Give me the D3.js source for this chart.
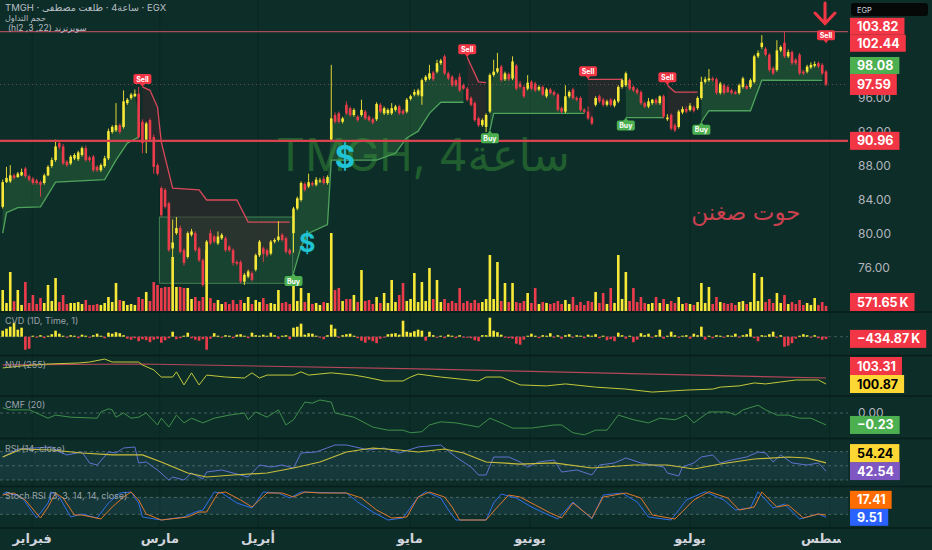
<!DOCTYPE html>
<html>
<head>
<meta charset="utf-8">
<script src="https://cdn.jsdelivr.net/npm/d3@7"></script>
<style>
  body { margin: 0; background: #0d2e28; }
  svg { display: block; font-family: Inter, "Noto Sans", "DejaVu Sans", sans-serif; }
</style>
</head>
<body>
<div id="chart"></div>
<script>
// ---- data (bar index 0..218, 4h bars) ----
const candles = [ // [open, high, low, close]
[83.2,86.4,83.0,86.1],[86.1,87.9,86.0,86.6],[86.2,88.1,86.0,86.9],[86.9,87.1,86.4,86.6],[86.7,87.3,86.6,87.1],
[86.9,87.7,86.8,87.3],[87.7,87.9,86.6,86.8],[86.8,87.0,86.2,86.4],[86.5,86.7,85.8,86.0],[86.3,86.5,85.8,86.0],
[86.1,86.3,84.4,85.8],[86.0,87.1,85.8,86.9],[86.9,88.1,86.8,87.9],[88.0,89.0,87.8,88.7],[88.7,91.1,88.5,90.3],
[90.7,91.0,90.0,90.2],[90.3,90.6,88.1,88.3],[88.5,88.7,87.9,88.1],[88.3,89.3,88.1,89.1],[88.9,89.5,88.7,89.3],
[88.8,89.8,88.6,89.6],[89.3,90.3,89.1,90.1],[90.1,90.4,88.5,88.7],[89.0,89.2,88.5,88.7],[89.1,89.3,87.3,87.5],
[87.9,88.1,87.3,87.5],[87.5,88.3,87.3,88.1],[88.0,89.2,87.8,88.9],[88.9,92.4,88.7,92.1],[92.0,92.8,91.8,92.6],
[92.2,95.4,92.0,92.8],[92.8,93.0,91.8,92.0],[92.6,96.9,92.4,95.6],[95.4,96.0,95.2,95.8],[96.0,96.6,95.8,96.4],
[96.2,97.0,96.1,96.5],[96.5,97.3,91.2,91.4],[93.2,93.5,89.5,90.7],[91.1,93.2,89.5,93.0],[93.4,93.6,90.9,91.1],
[91.4,91.7,87.1,87.9],[88.1,88.3,86.9,87.1],[85.4,85.6,82.0,82.2],[85.2,85.4,83.0,83.2],[83.6,83.8,77.9,78.1],
[78.3,81.7,76.0,79.0],[80.1,82.0,79.9,80.7],[80.7,81.0,77.7,77.9],[78.1,78.3,76.3,76.6],[77.3,80.3,77.1,80.1],
[79.9,80.6,79.7,80.3],[80.1,80.3,77.9,78.1],[78.3,78.5,76.7,76.9],[76.9,77.1,73.8,74.0],[74.4,79.3,74.2,79.1],
[80.1,80.5,78.7,78.9],[79.7,79.9,78.9,79.1],[78.9,80.3,78.7,79.7],[79.5,80.1,79.3,79.9],[79.5,79.7,77.9,78.1],
[78.5,78.7,77.9,78.1],[78.1,78.3,76.3,76.6],[76.7,76.9,76.3,76.5],[76.7,76.9,74.2,74.4],[74.4,75.4,74.0,75.2],
[75.0,75.8,74.8,75.6],[75.4,75.6,74.4,74.6],[75.8,77.7,75.6,77.5],[77.5,79.3,77.3,79.1],[78.3,78.5,76.7,77.7],
[78.1,78.3,77.3,77.5],[77.7,79.3,77.5,79.1],[79.1,79.5,78.9,79.3],[79.3,81.5,79.1,79.7],[79.9,80.1,79.1,79.3],
[79.5,79.7,77.7,77.9],[78.1,78.3,77.5,77.7],[80.1,83.2,77.8,83.0],[83.0,84.4,82.8,84.2],[84.0,86.2,83.8,86.0],
[85.9,86.1,85.0,85.2],[85.6,87.1,85.4,86.1],[86.0,86.2,85.6,85.8],[85.8,86.7,85.6,86.4],[86.2,86.6,86.0,86.3],
[86.5,86.8,85.8,86.0],[86.0,86.9,85.8,86.7],[91.1,99.9,90.9,93.6],[94.0,94.3,93.0,93.2],[94.2,94.4,93.0,93.2],
[93.2,93.8,93.0,93.6],[95.2,95.6,94.0,94.2],[94.8,95.0,93.8,94.0],[94.0,94.8,93.8,94.6],[93.8,94.0,93.2,93.4],
[94.0,95.8,93.8,94.6],[94.4,94.6,93.4,93.6],[93.8,94.0,93.2,93.4],[93.5,93.7,92.9,93.1],[93.5,95.5,93.3,95.3],
[95.2,95.4,94.2,94.4],[94.2,95.0,94.0,94.8],[94.2,94.8,94.0,94.6],[94.2,95.4,94.0,94.8],[94.6,95.2,94.4,95.0],
[95.0,95.2,94.0,94.2],[94.5,94.7,94.0,94.2],[94.4,96.0,94.2,95.8],[95.9,96.4,95.7,96.2],[96.4,97.0,96.2,96.7],
[96.4,97.1,96.2,96.9],[96.2,98.3,95.2,98.1],[98.1,98.7,97.9,98.5],[98.3,99.9,98.1,98.9],[99.0,99.2,98.0,98.2],
[99.1,100.5,98.9,100.1],[100.1,100.6,99.9,100.4],[100.9,101.1,98.7,98.9],[98.9,99.1,98.1,98.3],[98.5,98.7,97.3,97.5],
[98.1,98.3,97.3,97.5],[98.5,98.9,96.7,96.9],[97.5,97.7,97.0,97.1],[97.1,97.3,95.6,95.8],[96.0,96.2,95.0,95.2],
[95.4,95.6,93.2,93.4],[93.6,93.8,92.6,92.8],[92.8,93.6,92.6,93.4],[92.6,94.2,92.0,94.0],[94.4,98.9,94.2,98.7],
[98.7,100.5,98.5,99.1],[99.1,101.3,98.9,99.5],[99.7,99.9,97.9,98.1],[98.2,99.1,98.0,98.9],[98.8,99.0,98.0,98.2],
[98.3,100.9,98.1,100.3],[99.8,100.0,96.9,97.1],[97.7,98.0,97.1,97.3],[97.3,97.5,96.0,96.2],[97.1,98.7,96.9,97.8],
[97.9,98.1,96.9,97.1],[97.7,97.9,96.7,96.9],[97.0,97.5,96.8,97.3],[97.3,97.5,96.2,96.4],[96.2,97.2,96.0,97.0],
[97.0,97.2,96.4,96.6],[96.7,96.9,96.2,96.4],[96.4,96.6,94.4,94.6],[94.8,95.0,94.2,94.4],[94.4,97.5,94.2,96.2],
[96.2,96.9,96.0,96.7],[97.0,97.2,95.8,96.0],[96.0,96.2,95.6,95.8],[96.0,96.2,94.4,94.6],[94.6,94.8,94.2,94.4],
[94.4,95.0,93.4,93.6],[93.7,93.9,92.8,93.0],[95.2,96.2,95.0,96.0],[96.2,96.4,95.4,95.6],[95.8,96.0,95.0,95.2],
[95.2,95.8,95.0,95.6],[95.8,96.0,95.0,95.2],[95.1,95.9,94.9,95.7],[95.6,97.5,95.4,97.3],[97.3,98.3,97.1,98.1],
[97.5,99.1,97.3,98.9],[98.1,98.3,96.9,97.1],[97.3,97.5,96.7,96.9],[97.0,97.2,96.4,96.6],[96.7,96.9,95.2,95.4],
[95.4,95.6,94.8,95.0],[95.0,96.0,94.8,95.6],[95.4,95.9,95.2,95.8],[95.8,96.0,95.2,95.4],[95.4,96.3,95.2,96.2],
[96.2,96.4,93.6,93.8],[93.5,94.1,93.3,93.7],[94.0,94.2,92.2,92.4],[92.8,93.0,92.0,92.2],[92.6,94.6,92.4,94.4],
[94.3,95.0,94.1,94.7],[94.7,95.0,94.2,94.4],[94.6,95.4,94.4,95.1],[94.9,95.1,94.3,94.5],[94.8,96.2,94.6,96.0],
[96.0,98.5,95.8,97.9],[97.9,98.5,97.7,98.2],[98.1,99.4,97.9,98.3],[98.3,98.5,97.9,98.1],[98.2,98.4,96.4,96.6],
[96.6,97.9,96.4,97.7],[97.5,97.7,96.4,96.6],[97.3,97.5,96.6,96.7],[96.9,97.1,96.4,96.6],[96.7,96.9,96.4,96.5],
[96.6,97.7,96.4,97.5],[97.3,98.5,97.1,98.3],[97.4,97.6,97.0,97.1],[97.3,98.3,97.1,98.1],[97.9,101.1,97.7,100.9],
[100.9,101.6,100.7,101.3],[102.0,103.4,101.8,102.5],[101.8,102.0,100.9,101.1],[101.1,101.3,99.1,99.3],[99.5,99.7,98.7,98.9],
[99.3,102.8,99.1,101.6],[101.6,102.2,101.4,102.0],[102.5,103.8,100.7,100.9],[100.9,101.7,100.7,101.4],[101.4,101.6,99.9,100.1],
[100.5,100.7,99.9,100.1],[101.1,101.3,98.7,98.9],[99.1,99.3,98.7,98.9],[99.1,99.9,98.9,99.7],[99.6,100.2,99.4,99.9],
[99.8,100.3,99.6,100.0],[100.1,100.3,99.5,99.7],[99.9,100.1,98.7,98.9],[99.1,99.3,97.4,97.59]
];

const volumes = [ // thousands of shares
2360,900,4390,1100,2360,680,3260,900,1800,790, 1460,900,2930,1125,3710,1010,1800,790,900,900,
1010,790,1240,680,680,790,680,900,1575,1010, 3150,1240,1125,680,790,680,1575,1350,2140,1125,
3260,2930,2590,2700,2700,6075,2700,2700,2590,2590, 1350,1575,1125,1575,6860,1460,900,1240,790,1010,
790,1240,790,1240,900,1575,790,1240,1010,1460, 790,900,790,2360,900,1010,790,3150,1125,2590,
1010,2025,790,900,680,1010,900,8775,2360,2590, 1125,1350,1350,1800,1010,4610,1125,1240,790,1575,
900,2025,900,3490,1010,1800,3150,1125,1350,4275, 1010,3260,1125,4840,1350,3490,1010,1350,900,1125,
900,2590,900,1125,900,1240,900,1010,1350,6300, 1350,5510,1125,3150,1010,3150,1010,900,1125,2025,
900,2590,790,1010,900,790,900,1125,790,1240, 790,1575,680,1010,680,1125,1010,2140,900,2025,
790,2590,900,6300,1350,4390,1125,2590,1010,1575, 900,790,900,1575,900,1350,790,1125,900,1575,
790,900,790,680,1010,3150,900,2700,790,1575, 1010,900,790,900,680,1010,1125,790,1010,4275,
1125,3825,1010,1350,900,2025,900,1800,790,1010, 790,1240,680,900,680,1460,680,1010,571.65
];

const cvd = [ // cumulative volume delta per bar, thousands
1200,1600,2000,2800,1400,1800,-2600,-2400,200,-200, 300,-300,200,500,1200,600,200,-200,300,200,
-300,400,200,-200,300,600,200,-300,800,600, 900,700,300,-400,-600,-300,-900,-500,-700,-1100,
-600,-400,-1200,-700,-300,1000,-500,-300,200,800, -300,-600,-800,-500,-2600,-400,700,200,-200,300,
200,-300,400,500,200,-300,800,300,200,400, 200,800,300,-400,200,300,-500,1800,2000,2600,
400,700,600,200,-200,-500,300,2400,1600,-200, 300,500,600,200,-300,-800,-1200,-600,-900,-1300,
-400,-200,500,600,700,400,3200,1000,800,1100, 1400,1200,-800,1000,300,-200,200,-300,400,200,
-300,300,-200,-200,-300,-700,-900,300,300,3800, 1200,900,400,-200,-300,-400,-1400,-1600,-600,200,
600,200,-300,300,200,700,-200,300,-400,300, 500,-200,300,200,-300,400,200,500,-300,200,
-700,-500,-900,800,300,-400,200,-1100,-600,700, 300,600,-200,300,1400,-400,200,1000,300,-200,
200,300,-400,600,300,2000,-600,200,-300,300, 200,-200,300,200,600,-200,300,500,1600,-300,
-900,300,200,500,1000,-200,300,-2000,-1800,-1300, -400,200,500,300,-200,300,-300,-600,-434.87
];

// supertrend (hl2, 3, 22): [bar, level]
const upTrend = [
  [[0,80.1],[1,82.5],[4,83.1],[10,83.2],[14,86.1],[27,86.4],[30,88.7],[33,90.7],[36,91.4]],
  [[77,75.4],[79,78.5],[81,80.1],[86,81.1],[87,88.7],[99,88.7],[104,89.5],[107,91.3],[110,92.1],[113,94.2],[116,95.5],[122,95.5]],
  [[129,92.2],[130,94.2],[154,94.2]],
  [[165,93.7],[175,93.7]],
  [[185,93.2],[187,94.5],[198,94.5],[201,98.1],[217,98.08]]
];
const downTrend = [
  [[37,97.3],[39,96.9],[41,94.9],[42,90.8],[45,85.4],[52,85.2],[54,84.0],[62,84.0],[65,81.4],[76,81.4]],
  [[123,100.8],[126,97.9],[128,97.8]],
  [[155,98.2],[164,98.2]],
  [[176,97.5],[178,96.7],[184,96.7]],
  [[218,102.44]]
];

const nviLine = [[0,107.4],[5,108.2],[12,109.0],[20,109.4],[23,109.8],[27,111.0],[29,109.8],[36,109.8],[37,108.6],[40,106.6],
  [42,103.7],[45,103.7],[46,105.8],[48,100.5],[50,105.4],[52,100.5],[54,104.5],[59,103.7],[64,103.3],[66,105.4],[68,103.3],
  [70,104.5],[77,104.5],[79,105.8],[81,104.5],[87,105.4],[93,104.5],[96,103.7],[101,102.1],[106,102.1],[108,103.7],[110,104.9],
  [116,103.7],[126,102.1],[128,103.7],[132,103.7],[137,100.5],[144,100.1],[149,100.9],[157,99.6],[165,98.8],[172,97.6],
  [181,98.4],[188,98.8],[190,99.6],[195,100.1],[199,101.3],[202,100.9],[206,101.7],[210,102.5],[216,102.5],[218,100.87]];
const nviEma = [[0,108.6],[37,109.0],[110,107.0],[218,103.31]];

const cmfLine = [[0,0.10],[2,0.06],[7,0.06],[9,0],[12,-0.10],[14,-0.04],[18,-0.08],[25,-0.10],[26,0.02],[28,0.08],[29,0.06],
  [30,-0.08],[32,0],[34,-0.10],[36,-0.08],[38,0],[41,-0.23],[42,-0.10],[44,-0.27],[46,-0.04],[48,-0.19],[50,-0.10],[53,-0.19],
  [56,-0.10],[60,-0.04],[64,0],[65,-0.13],[67,0.02],[70,-0.08],[73,0.06],[75,-0.23],[77,-0.13],[80,0.21],[82,0.19],[84,0.25],
  [87,0.21],[88,0],[93,-0.08],[98,-0.27],[102,-0.33],[106,-0.33],[108,-0.38],[111,-0.36],[113,-0.23],[116,-0.17],[120,-0.19],
  [126,-0.27],[129,-0.10],[132,-0.19],[135,-0.29],[140,-0.29],[146,-0.23],[148,-0.23],[151,-0.38],[154,-0.42],[157,-0.33],
  [160,-0.33],[163,-0.04],[167,-0.13],[171,-0.19],[174,-0.10],[178,-0.13],[181,-0.04],[183,-0.19],[187,0.02],[192,0.02],
  [194,-0.04],[196,0.06],[200,0.15],[202,0.06],[205,-0.04],[208,-0.04],[211,-0.10],[214,-0.10],[218,-0.23]];

const rsiLine = [[0,62.4],[4,73.7],[13,76.6],[15,69.5],[17,65.3],[21,69.5],[23,54.0],[25,51.1],[28,69.5],[30,68.1],[32,75.1],
  [35,76.6],[36,54.0],[38,55.4],[41,44.1],[44,29.9],[45,34.2],[48,29.9],[50,39.8],[53,31.4],[54,41.2],[58,44.1],[61,39.8],
  [65,34.2],[68,51.1],[71,48.3],[74,51.1],[77,46.9],[79,68.1],[83,69.5],[88,79.4],[91,79.4],[97,72.3],[101,75.1],[105,68.1],
  [110,76.6],[116,79.4],[120,62.4],[124,48.3],[126,37.0],[128,37.0],[130,62.4],[134,62.4],[137,55.4],[139,48.3],[142,55.4],
  [146,58.2],[148,41.2],[152,44.1],[156,37.0],[158,51.1],[162,54.0],[165,61.0],[169,54.0],[172,51.1],[175,48.3],[176,39.8],
  [179,35.6],[180,48.3],[183,54.0],[185,62.4],[188,65.3],[190,54.0],[193,58.2],[197,62.4],[200,69.5],[202,68.1],[204,55.4],
  [206,65.3],[209,54.0],[213,51.1],[216,54.0],[218,42.54]];
const rsiMa = [[0,62.4],[5,73.7],[13,72.3],[21,68.1],[29,65.3],[37,65.3],[42,55.4],[49,39.8],[54,34.2],[61,37.0],[70,39.8],
  [77,46.9],[84,55.4],[91,69.5],[98,75.1],[105,72.3],[110,69.5],[117,73.7],[122,68.1],[128,55.4],[137,52.5],[146,54.0],
  [156,46.9],[167,51.1],[176,51.1],[183,45.5],[190,52.5],[199,59.6],[208,62.4],[213,61.0],[218,54.24]];

const stochK = [[0,91.8],[1,98.8],[5,81.2],[9,7.1],[12,60.0],[13,98.8],[15,81.2],[18,10.6],[21,21.2],[25,7.1],[28,60.0],
  [31,95.3],[34,98.8],[36,60.0],[37,10.6],[42,0],[48,10.6],[51,28.2],[53,35.3],[56,98.8],[58,95.3],[62,60.0],[66,42.4],
  [69,98.8],[73,95.3],[76,77.7],[79,98.8],[91,95.3],[94,63.5],[98,28.2],[102,0],[106,7.1],[110,81.2],[112,100],[116,77.7],
  [118,35.3],[120,0],[128,0],[130,60.0],[132,91.8],[136,77.7],[140,45.9],[144,21.2],[147,3.5],[151,63.5],[156,3.5],[159,88.3],
  [164,95.3],[168,63.5],[171,10.6],[177,0],[181,70.6],[186,100],[191,70.6],[194,35.3],[198,42.4],[200,100],[204,42.4],
  [207,56.5],[211,3.5],[216,21.2],[218,9.51]];
const stochD = [[0,88.3],[3,95.3],[6,70.6],[10,7.1],[12,45.9],[14,95.3],[16,77.7],[19,17.7],[21,17.7],[26,3.5],[29,45.9],
  [32,81.2],[34,98.8],[36,70.6],[38,21.2],[42,0],[49,10.6],[52,28.2],[54,28.2],[57,95.3],[59,98.8],[63,70.6],[66,45.9],
  [70,95.3],[74,95.3],[77,81.2],[80,98.8],[84,95.3],[91,95.3],[95,77.7],[99,35.3],[103,7.1],[107,10.6],[110,81.2],[113,98.8],
  [117,81.2],[119,45.9],[121,0],[128,0],[131,45.9],[134,88.3],[137,81.2],[141,53.0],[145,24.7],[148,7.1],[151,60.0],[156,7.1],
  [159,81.2],[165,95.3],[169,77.7],[172,17.7],[178,3.5],[183,70.6],[187,100],[192,77.7],[195,35.3],[199,45.9],[201,98.8],
  [205,45.9],[208,53.0],[212,7.1],[216,21.2],[218,17.41]];

const months = ["فبراير", "مارس", "أبريل", "مايو", "يونيو", "يوليو", "أغسطس"];
const monthBars = [7.8, 41.6, 67.6, 107.8, 139.6, 182, 219];
const priceTicks = [76, 80, 84, 88, 92, 96, 100, 104];
const levelHigh = 103.82;      // thin line at the top
const levelSupport = 90.96;    // thick red line
const lastClose = 97.59;
const zoneBox = { from: 41.5, to: 76.8, hi: 82.0, lo: 74.2 };

// ---- layout ----
const W = 932, H = 550, plotR = 848;
const panes = {
  main: [0, 312], cvd: [312, 355.5], nvi: [355.5, 396], cmf: [396, 438.5], rsi: [438.5, 486.5], stoch: [486.5, 528]
};
const bg = "#0d2e28", upC = "#f8e837", dnC = "#ec3c4c";

const x = d3.scaleLinear().domain([0, 218]).range([2.7, 826]);
const yMain = d3.scaleLinear().domain([76, 104]).range([268, 30]);
const yVol = d3.scaleLinear().domain([0, 9000]).range([311, 231]);
const yCvd = d3.scaleLinear().domain([-4000, 4000]).range([356.7, 316.7]);
const yNvi = d3.scaleLinear().domain([96, 112]).range([396, 356.6]);
const yCmf = d3.scaleLinear().domain([-0.45, 0.35]).range([436.4, 394.8]);
const yRsi = d3.scaleLinear().domain([0, 100]).range([501.2, 430.4]);
const yStoch = d3.scaleLinear().domain([0, 100]).range([520, 491.7]);

const svg = d3.select("#chart").append("svg").attr("width", W).attr("height", H);
svg.append("rect").attr("width", W).attr("height", H).attr("fill", bg);

const defs = svg.append("defs");
Object.entries(panes).forEach(([k, [y0, y1]]) => {
  defs.append("clipPath").attr("id", "clip-" + k)
    .append("rect").attr("x", 0).attr("y", y0).attr("width", plotR).attr("height", y1 - y0);
});
defs.append("clipPath").attr("id", "clip-time")
  .append("rect").attr("x", 0).attr("y", 528).attr("width", 841).attr("height", 22);

function pane(k) { return svg.append("g").attr("clip-path", `url(#clip-${k})`); }
function line(yS) { return d3.line().x(d => x(d[0])).y(d => yS(d[1])); }

// faint month grid
svg.append("g").selectAll("line").data(monthBars).join("line")
  .attr("x1", d => x(d)).attr("x2", d => x(d)).attr("y1", 0).attr("y2", 528)
  .attr("stroke", "#0a2621").attr("stroke-width", 1);

// ---- main pane ----
const gm = pane("main");
gm.append("text").attr("x", 423).attr("y", 171).attr("text-anchor", "middle")
  .attr("font-size", 45).attr("fill", "#215e2f").text("TMGH, 4ساعة");

gm.append("rect")
  .attr("x", x(zoneBox.from)).attr("y", yMain(zoneBox.hi))
  .attr("width", x(zoneBox.to) - x(zoneBox.from)).attr("height", yMain(zoneBox.lo) - yMain(zoneBox.hi))
  .attr("fill", "rgba(90,180,100,0.16)").attr("stroke", "rgba(110,190,120,0.55)").attr("stroke-width", 1);

function fillPoly(seg) {
  const i0 = seg[0][0], i1 = seg[seg.length - 1][0];
  const back = d3.range(i1, i0 - 1, -1).map(i => [i, (candles[i][0] + candles[i][3]) / 2]);
  return line(yMain)(seg.concat(back)) + "Z";
}
gm.append("g").selectAll("path").data(upTrend).join("path")
  .attr("d", fillPoly).attr("fill", "rgba(76,175,80,0.22)");
gm.append("g").selectAll("path").data(downTrend.filter(s => s.length > 1)).join("path")
  .attr("d", fillPoly).attr("fill", "rgba(60,38,44,0.5)");

// volume
gm.append("g").selectAll("rect").data(volumes).join("rect")
  .attr("x", (d, i) => x(i) - 1.3).attr("width", 2.6)
  .attr("y", d => yVol(d)).attr("height", d => yVol(0) - yVol(d))
  .attr("fill", (d, i) => candles[i][3] >= candles[i][0] ? upC : dnC);

// supertrend lines
gm.append("g").selectAll("path").data(upTrend).join("path")
  .attr("d", line(yMain)).attr("fill", "none").attr("stroke", "#4fa35c").attr("stroke-width", 1.3);
gm.append("g").selectAll("path").data(downTrend.filter(s => s.length > 1)).join("path")
  .attr("d", line(yMain)).attr("fill", "none").attr("stroke", "#d9485a").attr("stroke-width", 1.3);

// candles
const cg = gm.append("g");
cg.selectAll("line").data(candles).join("line")
  .attr("x1", (d, i) => x(i)).attr("x2", (d, i) => x(i))
  .attr("y1", d => yMain(d[1])).attr("y2", d => yMain(d[2]))
  .attr("stroke", d => d[3] >= d[0] ? upC : dnC).attr("stroke-width", 0.9);
cg.selectAll("rect").data(candles).join("rect")
  .attr("x", (d, i) => x(i) - 1.3).attr("width", 2.6)
  .attr("y", d => yMain(Math.max(d[0], d[3])))
  .attr("height", d => Math.max(1, Math.abs(yMain(d[0]) - yMain(d[3]))))
  .attr("fill", d => d[3] >= d[0] ? upC : dnC);

// horizontal levels
gm.append("line").attr("x1", 0).attr("x2", plotR).attr("y1", yMain(levelHigh)).attr("y2", yMain(levelHigh))
  .attr("stroke", "#a84c5a").attr("stroke-width", 1.3);
gm.append("line").attr("x1", 0).attr("x2", plotR).attr("y1", yMain(levelSupport)).attr("y2", yMain(levelSupport))
  .attr("stroke", "#d9434f").attr("stroke-width", 2.2);
gm.append("line").attr("x1", 0).attr("x2", plotR).attr("y1", yMain(lastClose)).attr("y2", yMain(lastClose))
  .attr("stroke", "rgba(200,120,130,0.45)").attr("stroke-width", 1).attr("stroke-dasharray", "1,3");

// buy / sell tags
function tag(g, seg, kind) {
  const cx = x(seg[0][0]), ty = yMain(seg[0][1]);
  const sell = kind === "Sell";
  const col = sell ? "#f23645" : "#4caf50";
  const by = sell ? ty - 13 : ty + 3;
  const t = g.append("g");
  t.append("path").attr("fill", col)
    .attr("d", sell ? `M${cx - 2.5},${ty - 3.5}L${cx + 2.5},${ty - 3.5}L${cx},${ty}Z`
                    : `M${cx - 2.5},${ty + 3.5}L${cx + 2.5},${ty + 3.5}L${cx},${ty}Z`);
  t.append("rect").attr("x", cx - 9).attr("y", by).attr("width", 18).attr("height", 10).attr("rx", 2).attr("fill", col);
  t.append("text").attr("x", cx).attr("y", by + 7.6).attr("text-anchor", "middle")
    .attr("font-size", 7).attr("font-weight", 700).attr("fill", "#fff").text(kind);
}
const tags = gm.append("g");
downTrend.forEach(s => tag(tags, s, "Sell"));
upTrend.slice(1).forEach(s => tag(tags, s, "Buy"));

// annotations
gm.append("text").attr("x", x(90.6)).attr("y", yMain(87.8)).attr("text-anchor", "middle")
  .attr("font-size", 31).attr("font-weight", 700).attr("fill", "#1fc3d4").text("$");
gm.append("text").attr("x", x(80.6)).attr("y", yMain(77.9)).attr("text-anchor", "middle")
  .attr("font-size", 25).attr("font-weight", 700).attr("fill", "#1fc3d4").text("$");
gm.append("text").attr("x", x(196.8)).attr("y", yMain(81.6)).attr("text-anchor", "middle")
  .attr("font-size", 23).attr("fill", "#c9404e").text("حوت صغنن");
const ax = x(218) - 1;
gm.append("path").attr("d", `M${ax},3L${ax},23M${ax - 10},13L${ax},23.5L${ax + 10},13`)
  .attr("fill", "none").attr("stroke", "#f23645").attr("stroke-width", 3).attr("stroke-linecap", "round");

// ---- CVD ----
const gc = pane("cvd");
gc.append("line").attr("x1", 0).attr("x2", plotR).attr("y1", yCvd(0)).attr("y2", yCvd(0))
  .attr("stroke", "rgba(160,170,180,0.35)").attr("stroke-dasharray", "3,3");
gc.selectAll("rect").data(cvd).join("rect")
  .attr("x", (d, i) => x(i) - 1.3).attr("width", 2.6)
  .attr("y", d => yCvd(Math.max(0, d))).attr("height", d => Math.max(1, Math.abs(yCvd(d) - yCvd(0))))
  .attr("fill", d => d >= 0 ? upC : dnC);

// ---- NVI ----
const gn = pane("nvi");
gn.append("path").datum(nviEma).attr("d", line(yNvi)).attr("fill", "none").attr("stroke", "#b4475a").attr("stroke-width", 1.2);
gn.append("path").datum(nviLine).attr("d", line(yNvi)).attr("fill", "none").attr("stroke", "#c3c83c").attr("stroke-width", 1);

// ---- CMF ----
const gf = pane("cmf");
gf.append("line").attr("x1", 0).attr("x2", plotR).attr("y1", yCmf(0)).attr("y2", yCmf(0))
  .attr("stroke", "rgba(160,170,180,0.4)").attr("stroke-dasharray", "3,3");
gf.append("path").datum(cmfLine).attr("d", line(yCmf)).attr("fill", "none").attr("stroke", "#3f8f4c").attr("stroke-width", 1);

// ---- RSI ----
const gr = pane("rsi");
gr.append("rect").attr("x", 0).attr("width", plotR).attr("y", yRsi(70)).attr("height", yRsi(30) - yRsi(70))
  .attr("fill", "rgba(70,120,170,0.15)");
[70, 50, 30].forEach(v => gr.append("line").attr("x1", 0).attr("x2", plotR).attr("y1", yRsi(v)).attr("y2", yRsi(v))
  .attr("stroke", "rgba(160,170,180,0.4)").attr("stroke-dasharray", "3,3"));
gr.append("path").datum(rsiLine).attr("d", line(yRsi)).attr("fill", "none").attr("stroke", "#5f73cf").attr("stroke-width", 1);
gr.append("path").datum(rsiMa).attr("d", line(yRsi)).attr("fill", "none").attr("stroke", "#c9bd3a").attr("stroke-width", 1.2);

// ---- Stoch RSI ----
const gs = pane("stoch");
gs.append("rect").attr("x", 0).attr("width", plotR).attr("y", yStoch(80)).attr("height", yStoch(20) - yStoch(80))
  .attr("fill", "rgba(70,120,170,0.15)");
[80, 20].forEach(v => gs.append("line").attr("x1", 0).attr("x2", plotR).attr("y1", yStoch(v)).attr("y2", yStoch(v))
  .attr("stroke", "rgba(160,170,180,0.4)").attr("stroke-dasharray", "3,3"));
gs.append("path").datum(stochK).attr("d", line(yStoch)).attr("fill", "none").attr("stroke", "#2f6ee8").attr("stroke-width", 1);
gs.append("path").datum(stochD).attr("d", line(yStoch)).attr("fill", "none").attr("stroke", "#e0782a").attr("stroke-width", 1);

// pane separators
[312, 355.5, 396, 438.5, 486.5, 528].forEach(y => svg.append("line")
  .attr("x1", 0).attr("x2", W).attr("y1", y).attr("y2", y).attr("stroke", "#061f1a").attr("stroke-width", 1.5));

// ---- legends ----
const lg = svg.append("g").attr("fill", "#b9bec6");
lg.append("text").attr("x", 5).attr("y", 11).attr("font-size", 9.5)
  .text("TMGH · طلعت مصطفى\u200E · \u200E4ساعة\u200E · EGX");
lg.append("text").attr("x", 5).attr("y", 21).attr("font-size", 8).text("حجم التداول");
lg.append("text").attr("x", 8).attr("y", 31).attr("font-size", 8.5)
  .attr("direction", "rtl").attr("text-anchor", "end").text("سوبرترند (22, 3, hl2)");
const paneNames = [["CVD (1D, Time, 1)", 324], ["NVI (255)", 368], ["CMF (20)", 408], ["RSI (14, close)", 452], ["Stoch RSI (3, 3, 14, 14, close)", 499]];
svg.append("g").selectAll("text").data(paneNames).join("text")
  .attr("x", 5).attr("y", d => d[1]).attr("font-size", 9).attr("fill", "#9aa2ab").text(d => d[0]);

// ---- price axis ----
const axisG = svg.append("g").attr("transform", `translate(${plotR + 8},0)`)
  .call(d3.axisRight(yMain).tickValues(priceTicks).tickFormat(d3.format(".2f")).tickSize(0).tickPadding(2));
axisG.select(".domain").remove();
axisG.selectAll("text").attr("fill", "#b2b5be").attr("font-size", 12).attr("font-family", "Inter, 'Noto Sans', sans-serif");
svg.append("text").attr("x", plotR + 10).attr("y", yCmf(0) + 4).attr("font-size", 12).attr("fill", "#b2b5be").text("0.00");

function axisLabels(items, y0, y1) {
  const s = items.slice().sort((a, b) => b.y - a.y);
  let prev = null;
  s.forEach(d => {
    let c = d.y;
    if (prev) c = Math.min(c, prev.c - (prev.h + d.h) / 2);
    c = Math.max(y0 + d.h / 2, Math.min(y1 - d.h / 2, c));
    d.c = c; prev = d;
  });
  s.forEach(d => {
    const g = svg.append("g");
    const r = g.append("rect").attr("x", plotR + 2).attr("y", d.c - d.h / 2).attr("height", d.h).attr("fill", d.bg);
    const t = g.append("text").attr("x", plotR + 9).attr("y", d.c + 4.5).attr("font-size", 12.5).attr("font-weight", 700)
      .attr("fill", d.fg).text(d.txt);
    r.attr("width", t.node().getComputedTextLength() + 13);
  });
}
const red = "#f23645", green = "#4caf50", yellow = "#fdd835";
axisLabels([
  { txt: "103.82", y: yMain(103.82), h: 17, bg: red, fg: "#fff" },
  { txt: "102.44", y: yMain(102.44), h: 17, bg: red, fg: "#fff" },
  { txt: "98.08", y: yMain(98.08), h: 17, bg: green, fg: "#fff" },
  { txt: "97.59", y: yMain(97.59), h: 21, bg: red, fg: "#fff" },
  { txt: "90.96", y: yMain(90.96), h: 18, bg: red, fg: "#fff" },
  { txt: "571.65\u2009K", y: yVol(571.65), h: 18, bg: red, fg: "#fff" }
], 0, 311);
axisLabels([{ txt: "\u2212434.87\u2009K", y: yCvd(-434.87), h: 18, bg: red, fg: "#fff" }], 312, 355);
axisLabels([
  { txt: "103.31", y: yNvi(103.31), h: 18, bg: red, fg: "#fff" },
  { txt: "100.87", y: yNvi(100.87), h: 18, bg: yellow, fg: "#000" }
], 356, 396);
axisLabels([{ txt: "\u22120.23", y: yCmf(-0.23), h: 18, bg: green, fg: "#fff" }], 396, 438);
axisLabels([
  { txt: "54.24", y: yRsi(54.24), h: 18, bg: yellow, fg: "#000" },
  { txt: "42.54", y: yRsi(42.54), h: 18, bg: "#7e57c2", fg: "#fff" }
], 439, 486);
axisLabels([
  { txt: "17.41", y: yStoch(17.41), h: 18, bg: "#ff6d00", fg: "#fff" },
  { txt: "9.51", y: yStoch(9.51), h: 17, bg: "#2962ff", fg: "#fff" }
], 487, 527);

// currency badge
svg.append("rect").attr("x", 851).attr("y", 3).attr("width", 77).attr("height", 13).attr("rx", 3).attr("fill", "#050807");
svg.append("text").attr("x", 857).attr("y", 12.5).attr("font-size", 7.5).attr("fill", "#d1d4dc").text("EGP");

// ---- time axis ----
svg.append("g").attr("clip-path", "url(#clip-time)").selectAll("text").data(months).join("text")
  .attr("x", (d, i) => x(monthBars[i])).attr("y", 543).attr("text-anchor", "middle")
  .attr("font-size", 13).attr("font-weight", 700).attr("fill", "#d1d4dc").text(d => d);
</script>
</body>
</html>
